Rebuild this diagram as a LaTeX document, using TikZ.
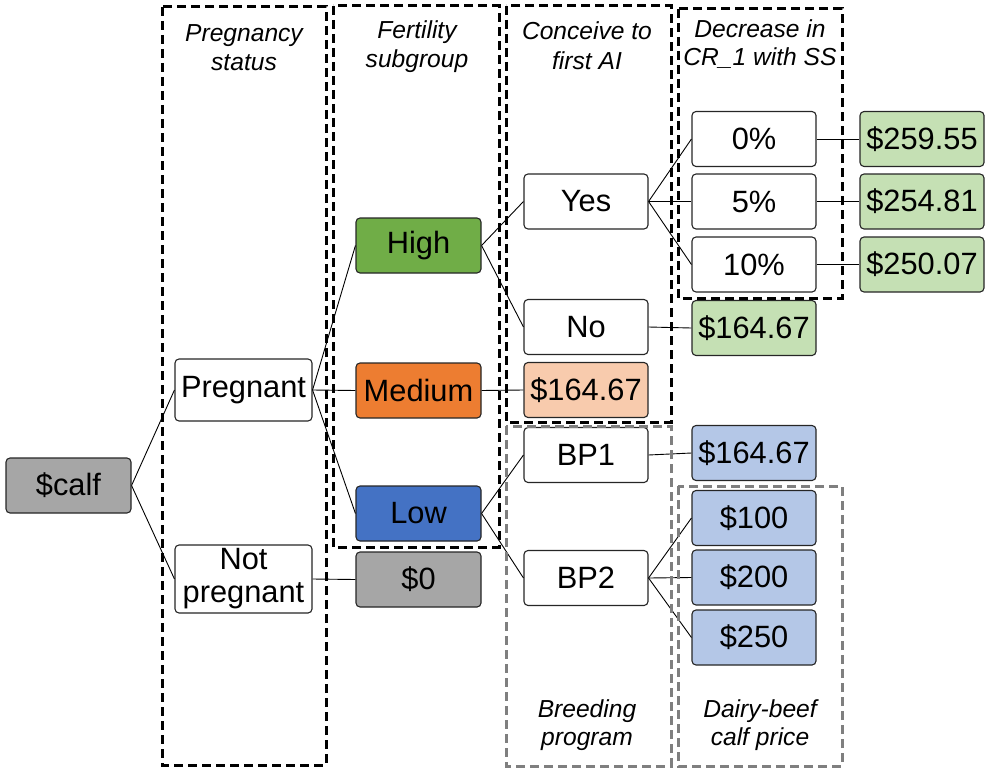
\documentclass[tikz,border=0pt]{standalone}
\usepackage{fontspec}
\setmainfont{Liberation Sans}
\definecolor{cgray}{HTML}{A6A6A6}
\definecolor{cgreen}{HTML}{70AD47}
\definecolor{corange}{HTML}{ED7D31}
\definecolor{cblue}{HTML}{4472C4}
\definecolor{cpeach}{HTML}{F8CBAD}
\definecolor{clgreen}{HTML}{C5E0B4}
\definecolor{clblue}{HTML}{B4C7E7}
\definecolor{grayd}{HTML}{7F7F7F}
\begin{document}
\begin{tikzpicture}[x=1pt,y=-1pt,
  bx/.style={draw=black!85, line width=1.1pt, rounded corners=4pt, minimum width=124pt, minimum height=55pt, inner sep=0pt, align=center, fill=white, font=\fontsize{30.8}{33}\selectfont},
  hdr/.style={font=\fontsize{24.6}{30}\selectfont\itshape, anchor=base, inner sep=0pt},
  dbk/.style={draw=black, line width=3pt, dash pattern=on 9pt off 5pt},
  dgr/.style={draw=grayd, line width=3pt, dash pattern=on 9pt off 5pt},
  ln/.style={draw=black, line width=0.9pt}]
\useasboundingbox (0,0) rectangle (992,773);

% nodes
\node[bx, fill=cgray, minimum width=125pt] (calf) at (68.5,485.5) {\$calf};
\node[bx, minimum width=137pt, minimum height=62pt] (preg) at (243.5,390) {Pregnant};
\node[bx, minimum width=137pt, minimum height=68pt] (npreg) at (243.5,579) {Not\\pregnant};
\node[bx, fill=cgreen, minimum width=125pt] (high) at (418.5,245.5) {High};
\node[bx, fill=corange, minimum width=125pt] (med) at (418.5,390.5) {Medium};
\node[bx, fill=cblue, minimum width=125pt] (low) at (418.5,513.5) {Low};
\node[bx, fill=cgray, minimum width=125pt] (zero) at (418.5,579.5) {\$0};
\node[bx] (yes) at (586,201.5) {Yes};
\node[bx] (no) at (586,327) {No};
\node[bx, fill=cpeach] (medv) at (586,390) {\$164.67};
\node[bx] (bp1) at (586,455) {BP1};
\node[bx] (bp2) at (586,578) {BP2};
\node[bx] (p0) at (754,139) {0\%};
\node[bx] (p5) at (754,201.5) {5\%};
\node[bx] (p10) at (754,264.5) {10\%};
\node[bx, fill=clgreen] (nov) at (754,328) {\$164.67};
\node[bx, fill=clblue] (bp1v) at (754,453) {\$164.67};
\node[bx, fill=clblue] (c100) at (754,518) {\$100};
\node[bx, fill=clblue] (c200) at (754,577.5) {\$200};
\node[bx, fill=clblue] (c250) at (754,637.5) {\$250};
\node[bx, fill=clgreen] (v0) at (922,139) {\$259.55};
\node[bx, fill=clgreen] (v5) at (922,201.5) {\$254.81};
\node[bx, fill=clgreen] (v10) at (922,264.5) {\$250.07};

% connectors
\draw[ln] (calf.east) -- (preg.west);
\draw[ln] (calf.east) -- (npreg.west);
\draw[ln] (preg.east) -- (high.west);
\draw[ln] (preg.east) -- (med.west);
\draw[ln] (preg.east) -- (low.west);
\draw[ln] (npreg.east) -- (zero.west);
\draw[ln] (high.east) -- (yes.west);
\draw[ln] (high.east) -- (no.west);
\draw[ln] (med.east) -- (medv.west);
\draw[ln] (low.east) -- (bp1.west);
\draw[ln] (low.east) -- (bp2.west);
\draw[ln] (yes.east) -- (p0.west);
\draw[ln] (yes.east) -- (p5.west);
\draw[ln] (yes.east) -- (p10.west);
\draw[ln] (no.east) -- (nov.west);
\draw[ln] (p0.east) -- (v0.west);
\draw[ln] (p5.east) -- (v5.west);
\draw[ln] (p10.east) -- (v10.west);
\draw[ln] (bp1.east) -- (bp1v.west);
\draw[ln] (bp2.east) -- (c100.west);
\draw[ln] (bp2.east) -- (c200.west);
\draw[ln] (bp2.east) -- (c250.west);

% dashed group boxes
\draw[dbk] (162,7) rectangle (326,765);
\draw[dbk] (333,6) rectangle (499,547);
\draw[dbk] (506,6) rectangle (671,422);
\draw[dbk] (678,9) rectangle (842,298);
\draw[dgr] (506,426) rectangle (671,766);
\draw[dgr] (678,486) rectangle (842,766);

% headers
\node[hdr] (h1a) at (244,42) {Pregnancy};
\node[hdr] (h1b) at (244,71) {status};
\node[hdr] (h2a) at (417,39) {Fertility};
\node[hdr] (h2b) at (417,68) {subgroup};
\node[hdr] (h3a) at (587,40) {Conceive to};
\node[hdr] (h3b) at (587,70) {first AI};
\node[hdr] (h4a) at (760,38) {Decrease in};
\node[hdr] (h4b) at (760,66) {CR\_1 with SS};
\node[hdr] (h5a) at (587,717) {Breeding};
\node[hdr] (h5b) at (587,745) {program};
\node[hdr] (h6a) at (760,717) {Dairy-beef};
\node[hdr] (h6b) at (760,745) {calf price};
\end{tikzpicture}
\end{document}
